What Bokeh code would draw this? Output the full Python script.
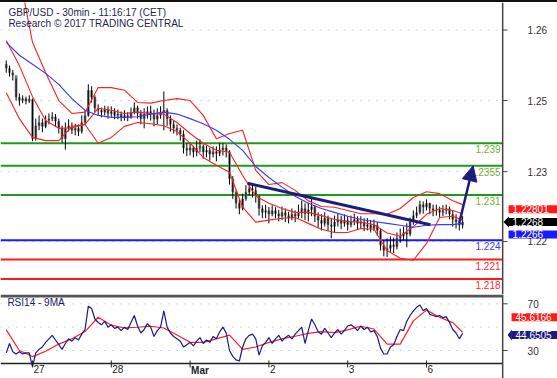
from bokeh.plotting import figure
from bokeh.layouts import column
from bokeh.models import Range1d, Label, Arrow, NormalHead, Span, Div
from bokeh.core.properties import value
from bokeh.embed import file_html
from bokeh.resources import INLINE

FONT = "Liberation Sans"
NAVY = "#1c1c7a"

# ---------------- data ----------------
hours = list(range(-8, 132))  # hourly bars, 0 = start of 27 Feb

close_ = [1.2506, 1.2499, 1.2495, 1.2461, 1.2456, 1.2459, 1.2455, 1.2458, 1.2397, 1.2417,
          1.2422, 1.2416, 1.2425, 1.2428, 1.2431, 1.2424, 1.2413, 1.2397, 1.2413, 1.2417,
          1.2410, 1.2413, 1.2408, 1.2422, 1.2433, 1.2472, 1.2461, 1.2444, 1.2441, 1.2438,
          1.2442, 1.2436, 1.2439, 1.2433, 1.2435, 1.2430, 1.2433, 1.2430, 1.2438, 1.2445,
          1.2436, 1.2428, 1.2435, 1.2439, 1.2436, 1.2427, 1.2433, 1.2438, 1.2441, 1.2428,
          1.2419, 1.2413, 1.2410, 1.2404, 1.2382, 1.2379, 1.2383, 1.2376, 1.2382, 1.2385,
          1.2376, 1.2379, 1.2373, 1.2377, 1.2374, 1.2380, 1.2383, 1.2377, 1.2335, 1.2314,
          1.2297, 1.2289, 1.2304, 1.2314, 1.2320, 1.2317, 1.2309, 1.2289, 1.2283, 1.2286,
          1.2280, 1.2286, 1.2281, 1.2277, 1.2283, 1.2278, 1.2274, 1.2280, 1.2277, 1.2284,
          1.2289, 1.2281, 1.2287, 1.2292, 1.2277, 1.2271, 1.2266, 1.2274, 1.2264, 1.2261,
          1.2268, 1.2272, 1.2266, 1.2271, 1.2264, 1.2269, 1.2272, 1.2266, 1.2268, 1.2261,
          1.2264, 1.2258, 1.2263, 1.2255, 1.2232, 1.2224, 1.2227, 1.2233, 1.2230, 1.2243,
          1.2246, 1.2252, 1.2249, 1.2268, 1.2278, 1.2283, 1.2295, 1.2291, 1.2297, 1.2289,
          1.2286, 1.2287, 1.2283, 1.2286, 1.2289, 1.2280, 1.2272, 1.2268, 1.2263, 1.2268]

high_ = [1.2518, 1.2510, 1.2503, 1.2490, 1.2467, 1.2464, 1.2462, 1.2464, 1.2459, 1.2428,
         1.2433, 1.2428, 1.2433, 1.2436, 1.2438, 1.2435, 1.2428, 1.2417, 1.2422, 1.2427,
         1.2422, 1.2420, 1.2419, 1.2433, 1.2441, 1.2481, 1.2478, 1.2464, 1.2450, 1.2445,
         1.2448, 1.2447, 1.2447, 1.2444, 1.2442, 1.2439, 1.2441, 1.2438, 1.2445, 1.2453,
         1.2448, 1.2441, 1.2444, 1.2447, 1.2448, 1.2442, 1.2444, 1.2447, 1.2470, 1.2444,
         1.2433, 1.2425, 1.2419, 1.2414, 1.2410, 1.2390, 1.2391, 1.2386, 1.2394, 1.2396,
         1.2388, 1.2386, 1.2383, 1.2385, 1.2385, 1.2390, 1.2390, 1.2388, 1.2379, 1.2339,
         1.2317, 1.2303, 1.2312, 1.2325, 1.2328, 1.2326, 1.2323, 1.2309, 1.2294, 1.2295,
         1.2291, 1.2294, 1.2291, 1.2287, 1.2292, 1.2289, 1.2284, 1.2289, 1.2286, 1.2295,
         1.2301, 1.2297, 1.2298, 1.2306, 1.2294, 1.2283, 1.2280, 1.2283, 1.2278, 1.2274,
         1.2278, 1.2281, 1.2278, 1.2280, 1.2277, 1.2278, 1.2281, 1.2277, 1.2277, 1.2274,
         1.2274, 1.2271, 1.2272, 1.2268, 1.2258, 1.2240, 1.2243, 1.2246, 1.2244, 1.2252,
         1.2258, 1.2261, 1.2266, 1.2275, 1.2286, 1.2292, 1.2301, 1.2300, 1.2303, 1.2298,
         1.2295, 1.2295, 1.2292, 1.2294, 1.2295, 1.2292, 1.2286, 1.2280, 1.2274, 1.2277]

low_ = [1.2499, 1.2493, 1.2487, 1.2456, 1.2448, 1.2452, 1.2450, 1.2452, 1.2393, 1.2394,
        1.2410, 1.2407, 1.2413, 1.2419, 1.2424, 1.2416, 1.2405, 1.2391, 1.2380, 1.2408,
        1.2404, 1.2402, 1.2401, 1.2405, 1.2419, 1.2431, 1.2453, 1.2438, 1.2433, 1.2430,
        1.2433, 1.2428, 1.2431, 1.2427, 1.2427, 1.2424, 1.2425, 1.2424, 1.2428, 1.2435,
        1.2428, 1.2419, 1.2413, 1.2428, 1.2425, 1.2416, 1.2419, 1.2428, 1.2410, 1.2417,
        1.2408, 1.2405, 1.2402, 1.2394, 1.2374, 1.2370, 1.2371, 1.2368, 1.2370, 1.2376,
        1.2366, 1.2368, 1.2363, 1.2368, 1.2362, 1.2370, 1.2371, 1.2368, 1.2326, 1.2304,
        1.2289, 1.2280, 1.2286, 1.2301, 1.2309, 1.2306, 1.2298, 1.2278, 1.2274, 1.2274,
        1.2266, 1.2277, 1.2274, 1.2269, 1.2271, 1.2268, 1.2266, 1.2271, 1.2268, 1.2274,
        1.2274, 1.2271, 1.2269, 1.2277, 1.2268, 1.2260, 1.2255, 1.2261, 1.2254, 1.2243,
        1.2252, 1.2261, 1.2257, 1.2261, 1.2255, 1.2260, 1.2263, 1.2257, 1.2258, 1.2254,
        1.2255, 1.2252, 1.2254, 1.2247, 1.2224, 1.2215, 1.2214, 1.2221, 1.2220, 1.2226,
        1.2236, 1.2240, 1.2229, 1.2246, 1.2264, 1.2274, 1.2280, 1.2281, 1.2286, 1.2280,
        1.2277, 1.2278, 1.2275, 1.2277, 1.2280, 1.2272, 1.2261, 1.2258, 1.2255, 1.2258]

first_open = 1.2512

band_hours = [-8, -4, 0, 4, 8, 12, 16, 20, 24, 28, 32, 36, 40, 44, 48, 52, 56, 60,
              64, 68, 72, 76, 80, 84, 88, 92, 96, 100, 104, 108, 112, 116, 120, 124, 128, 131]

bb_upper = [1.2673, 1.2650, 1.2546, 1.2499, 1.2456, 1.2436, 1.2438, 1.2476, 1.2476, 1.2472,
            1.2453, 1.2452, 1.2456, 1.2459, 1.2456, 1.2433, 1.2397, 1.2405, 1.2410, 1.2348,
            1.2326, 1.2329, 1.2317, 1.2301, 1.2292, 1.2291, 1.2286, 1.2281, 1.2281, 1.2280,
            1.2289, 1.2306, 1.2315, 1.2312, 1.2301, 1.2295]
bb_mid = [1.2549, 1.2510, 1.2462, 1.2425, 1.2413, 1.2414, 1.2419, 1.2444, 1.2441, 1.2436,
          1.2438, 1.2436, 1.2435, 1.2422, 1.2405, 1.2390, 1.2379, 1.2376, 1.2340, 1.2308,
          1.2297, 1.2289, 1.2283, 1.2283, 1.2278, 1.2272, 1.2269, 1.2268, 1.2264, 1.2251,
          1.2246, 1.2261, 1.2280, 1.2289, 1.2286, 1.2281]
bb_lower = [1.2468, 1.2428, 1.2399, 1.2394, 1.2394, 1.2416, 1.2419, 1.2390, 1.2399, 1.2416,
            1.2422, 1.2420, 1.2417, 1.2408, 1.2390, 1.2368, 1.2356, 1.2345, 1.2291, 1.2268,
            1.2271, 1.2274, 1.2275, 1.2266, 1.2257, 1.2252, 1.2252, 1.2258, 1.2257, 1.2224,
            1.2212, 1.2209, 1.2235, 1.2275, 1.2277, 1.2271]
ma_blue = [1.2546, 1.2526, 1.2512, 1.2498, 1.2481, 1.2459, 1.2441, 1.2433, 1.2430, 1.2430,
           1.2431, 1.2435, 1.2438, 1.2435, 1.2428, 1.2420, 1.2410, 1.2396, 1.2379, 1.2354,
           1.2337, 1.2322, 1.2308, 1.2297, 1.2289, 1.2283, 1.2277, 1.2272, 1.2269, 1.2266,
           1.2263, 1.2260, 1.2263, 1.2264, 1.2264, 1.2266]

rsi14 = [28, 36, 29, 27, 29, 27, 28, 28, 16, 28,
         31, 33, 37, 40, 43, 39, 35, 31, 36, 40,
         38, 41, 39, 44, 48, 68, 66, 57, 54, 52,
         55, 50, 52, 49, 50, 47, 50, 48, 54, 60,
         51, 45, 48, 53, 50, 42, 47, 50, 64, 50,
         45, 42, 40, 38, 33, 35, 37, 34, 38, 41,
         36, 39, 37, 42, 40, 46, 50, 45, 30, 25,
         22, 21, 33, 40, 43, 44, 40, 26, 34, 37,
         41, 36, 40, 43, 38, 41, 43, 40, 44, 47,
         50, 36, 47, 57, 52, 46, 44, 49, 45, 41,
         45, 48, 44, 47, 51, 52, 50, 47, 51, 48,
         50, 46, 47, 42, 32, 27, 27, 33, 35, 42,
         48, 47, 55, 60, 64, 67, 69, 64, 66, 61,
         60, 59, 60, 58, 59, 54, 48, 45, 40, 44.6505]
rsi_ma9 = [47.7, 30.0, 24.8, 29.4, 35.5, 40.1, 46.2, 58.5, 51.7, 49.3,
           49.9, 50.8, 49.3, 43.2, 37.0, 37.0, 40.0, 43.2, 31.0, 33.0,
           37.0, 40.0, 42.2, 44.7, 46.2, 45.3, 47.7, 50.8, 48.4, 35.5,
           35.5, 55.4, 64.6, 58.5, 53.9, 45.6166]

levels = [1.239, 1.2355, 1.231, 1.224, 1.221, 1.218]
level_labels = ["1.239", "1.2355", "1.231", "1.224", "1.221", "1.218"]
level_line_colors = ["#1e9a1e", "#1e9a1e", "#1e9a1e", "#1a1aff", "#ff1a1a", "#ff1a1a"]
level_text_colors = ["#78b030", "#78b030", "#78b030", "#3c3cff", "#ff2a2a", "#ff2a2a"]

trend_hours = [65.5, 121.2]
trend_prices = [1.2328, 1.2264]
target_hours = [130.0, 134.2]
target_prices = [1.2267, 1.2355]

day_ticks = [0, 24, 48, 72, 96, 120]
day_labels = ["27", "28", "Mar", "2", "3", "6"]
price_ticks = [1.2565, 1.2456, 1.2346, 1.2238]
price_tick_labels = ["1.26", "1.25", "1.23", "1.22"]
rsi_ticks = [70, 30]
rsi_tick_labels = ["70", "30"]
rsi_grid = [30, 50, 70]

tag_values = [1.22801, 1.2268, 1.2266]
tag_texts = ["1.22801", "1.2268", "1.2266"]
tag_colors = ["#ff1a1a", "#000000", "#1a1aff"]
rsi_tag_values = [45.6166, 44.6505]
rsi_tag_texts = ["45.6166", "44.6505"]
rsi_tag_colors = ["#ff1a1a", "#1a1a80"]

# ---------------- layout constants (hours / screen px) ----------------
X0, X1 = -9.75, 159.9          # full window width
AXIS_X = 143.2                 # right price axis line
TICK_X = 144.7                 # end of tick marks
LABEL_X = 150.8                # tick label left edge
TAG_X = 145.0                  # price tag left edge
RSI_TAG_X = 145.9

# ---------------- derived ----------------
open_ = [first_open] + close_[:-1]
body_top = [max(o, c) for o, c in zip(open_, close_)]
body_bot = [min(o, c) for o, c in zip(open_, close_)]
x_range = Range1d(X0, X1)

# ---------------- main price panel ----------------
p = figure(width=557, height=292, x_range=x_range, y_range=Range1d(1.21560, 1.26076),
           output_backend="svg", toolbar_location=None, x_axis_location=None,
           y_axis_location=None, min_border=0, outline_line_color=None,
           background_fill_color="white", border_fill_color="white")
p.grid.visible = False

n = len(price_ticks)
p.segment(x0=[X0] * n, y0=price_ticks, x1=[AXIS_X] * n, y1=price_ticks,
          line_color="#b0b0b0", line_dash="1 7", line_width=1)
m = len(levels)
p.segment(x0=[X0] * m, y0=levels, x1=[AXIS_X] * m, y1=levels,
          line_color=level_line_colors, line_width=2)

p.vbar(x=hours, top=body_top, bottom=body_bot, width=0.8, fill_color="#777777", line_color=None)
p.segment(x0=hours, y0=low_, x1=hours, y1=high_, line_color="black", line_width=1)

p.line(band_hours, bb_upper, line_color="#ff2020", line_width=1.1)
p.line(band_hours, bb_mid, line_color="#ff2020", line_width=1.1)
p.line(band_hours, bb_lower, line_color="#ff2020", line_width=1.1)
p.line(band_hours, ma_blue, line_color="#3a3aff", line_width=1.1)

p.line(trend_hours, trend_prices, line_color=NAVY, line_width=3)
p.add_layout(Arrow(end=NormalHead(size=15, fill_color=NAVY, line_color=NAVY),
                   x_start=target_hours[0], y_start=target_prices[0],
                   x_end=target_hours[1], y_end=target_prices[1],
                   line_color=NAVY, line_width=2.5))

p.text(x=[AXIS_X - 0.65] * m, y=levels, text=level_labels, text_color=level_text_colors,
       text_align="right", text_baseline="top", y_offset=2,
       text_font=value(FONT), text_font_size="10px")

# right price axis
p.add_layout(Span(location=AXIS_X, dimension="height", line_color="#444444", line_width=1.5))
p.segment(x0=[AXIS_X] * n, y0=price_ticks, x1=[TICK_X] * n, y1=price_ticks,
          line_color="#444444", line_width=1)
p.text(x=[LABEL_X] * n, y=price_ticks, text=price_tick_labels, text_color="#333333",
       text_align="left", text_baseline="middle", text_font=value(FONT), text_font_size="10px")

# price tags
p.text(x=[TAG_X] * 3, y=tag_values, y_offset=[-5, 0, 11], text=tag_texts, text_color="white",
       text_align="left", text_baseline="middle", text_font=value(FONT), text_font_size="10px",
       background_fill_color=tag_colors, padding=dict(left=4, right=20, top=0, bottom=0))
lc = tag_values[1]
p.patch(x=[AXIS_X + 0.25, TAG_X + 0.1, TAG_X + 0.1], y=[lc, lc + 0.00085, lc - 0.00085],
        fill_color="black", line_color=None)

p.add_layout(Label(x=X0 + 2.4, y=1.25921, text="GBP/USD - 30min - 11:16:17 (CET)",
                   text_baseline="middle", text_font=FONT, text_font_size="10px",
                   text_color="#1f1f50"))
p.add_layout(Label(x=X0 + 2.4, y=1.25751, text="Research \u00a9 2017 TRADING CENTRAL",
                   text_baseline="middle", text_font=FONT, text_font_size="10px",
                   text_color="#1f1f50"))

# ---------------- RSI panel ----------------
RSI_AXIS_Y = 18.87
r = figure(width=557, height=84, x_range=x_range, y_range=Range1d(6.02, 77.97),
           output_backend="svg", toolbar_location=None, x_axis_location=None,
           y_axis_location=None, min_border=0, outline_line_color=None,
           background_fill_color="white", border_fill_color="white")
r.grid.visible = False

k = len(rsi_grid)
r.segment(x0=[X0] * k, y0=rsi_grid, x1=[AXIS_X] * k, y1=rsi_grid,
          line_color="#b0b0b0", line_dash="1 7", line_width=1)
# panel separator and bottom axis line
r.segment(x0=[X0, X0], y0=[76.7, RSI_AXIS_Y], x1=[AXIS_X, AXIS_X], y1=[76.7, RSI_AXIS_Y],
          line_color=["#555555", "#222222"], line_width=[3, 1.5])
r.add_layout(Span(location=AXIS_X, dimension="height", line_color="#444444", line_width=1.5))

r.line(band_hours, rsi_ma9, line_color="#ff2020", line_width=1.2)
r.line(hours, rsi14, line_color="#1a1a8a", line_width=1.2)

kk = len(rsi_ticks)
r.segment(x0=[AXIS_X] * kk, y0=rsi_ticks, x1=[TICK_X] * kk, y1=rsi_ticks,
          line_color="#444444", line_width=1)
r.text(x=[LABEL_X] * kk, y=rsi_ticks, text=rsi_tick_labels, text_color="#333333",
       text_align="left", text_baseline="middle", text_font=value(FONT), text_font_size="10px")

nd = len(day_ticks)
r.segment(x0=day_ticks, y0=[RSI_AXIS_Y + 2.6] * nd, x1=day_ticks, y1=[RSI_AXIS_Y - 3.4] * nd,
          line_color="#222222", line_width=1)
r.text(x=day_ticks, y=[RSI_AXIS_Y] * nd, text=day_labels, x_offset=1, y_offset=2,
       text_color="#222222", text_align="left", text_baseline="top",
       text_font=value(FONT), text_font_size="10px",
       text_font_style=["bold" if d == "Mar" else "normal" for d in day_labels])

r.add_layout(Label(x=X0 + 2.1, y=71.1, text="RSI14 - 9MA", text_baseline="middle",
                   text_font=FONT, text_font_size="10px", text_color="#1a1a70"))

r.text(x=[RSI_TAG_X] * 2, y=rsi_tag_values, y_offset=[-15, 1.5], text=rsi_tag_texts,
       text_color="white", text_align="left", text_baseline="middle",
       text_font=value(FONT), text_font_size="10px",
       background_fill_color=rsi_tag_colors, padding=dict(left=4, right=20, top=0, bottom=0))
rv = rsi_tag_values[1] - 1.3
r.patch(x=[TICK_X, RSI_TAG_X + 0.1, RSI_TAG_X + 0.1], y=[rv, rv + 4.7, rv - 4.7],
        fill_color="#1a1a80", line_color=None)

top_line = Div(width=557, height=2, margin=0, styles={"background-color": "#111111"})

layout = column(top_line, p, r, spacing=0)
open("out.html", "w").write(file_html(layout, INLINE))
